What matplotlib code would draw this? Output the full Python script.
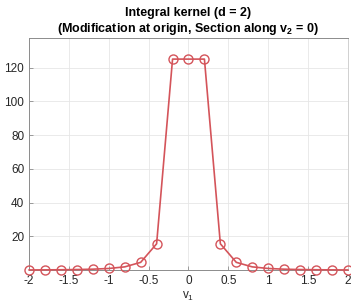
import matplotlib
matplotlib.use("Agg")
import matplotlib.pyplot as plt

plt.rcParams["font.family"] = ["Liberation Sans", "DejaVu Sans"]
plt.rcParams["mathtext.fontset"] = "custom"
plt.rcParams["mathtext.rm"] = "Liberation Sans"
plt.rcParams["mathtext.it"] = "Liberation Sans"
plt.rcParams["mathtext.bf"] = "Liberation Sans:bold"

v1 = [-2.0, -1.8, -1.6, -1.4, -1.2, -1.0, -0.8, -0.6, -0.4, -0.2, 0.0,
      0.2, 0.4, 0.6, 0.8, 1.0, 1.2, 1.4, 1.6, 1.8, 2.0]
kernel = [0.125, 0.171, 0.244, 0.364, 0.579, 1.0, 1.953, 4.63, 15.625, 125.0, 125.0,
          125.0, 15.625, 4.63, 1.953, 1.0, 0.579, 0.364, 0.244, 0.171, 0.125]

xticks = [-2, -1.5, -1, -0.5, 0, 0.5, 1, 1.5, 2]
xticklabels = ["-2", "-1.5", "-1", "-0.5", "0", "0.5", "1", "1.5", "2"]
yticks = [20, 40, 60, 80, 100, 120]

fig = plt.figure(figsize=(3.51, 3.04), dpi=100)
ax = fig.add_axes([0.083, 0.112, 0.908, 0.763])

ax.plot(v1, kernel, color="#d4545a", linewidth=1.2, marker="o", markersize=6.5,
        markerfacecolor="none", markeredgecolor="#d4545a", markeredgewidth=1.0,
        clip_on=False, zorder=3)

ax.set_xlim(-2, 2)
ax.set_ylim(0.125, 137.5)
ax.set_xticks(xticks)
ax.set_xticklabels(xticklabels)
ax.set_yticks(yticks)
ax.grid(True, color="#e6e6e6", linewidth=0.6)
ax.set_axisbelow(True)
ax.tick_params(direction="in", length=3, labelsize=8.5, labelcolor="#262626",
               color="#8c8c8c", width=0.6)
for side, sp in ax.spines.items():
    sp.set_linewidth(0.7)
    sp.set_color("#8c8c8c" if side in ("left", "bottom", "top") else "#d0d0d0")

ax.set_xlabel("v$_1$", fontsize=8.5, color="#262626", labelpad=2)
ax.set_title("Integral kernel (d = 2)\n(Modification at origin, Section along v$_\\mathbf{2}$ = 0)",
             fontsize=9, fontweight="bold", pad=4, linespacing=1.25)

fig.savefig("out.png", dpi=100)
